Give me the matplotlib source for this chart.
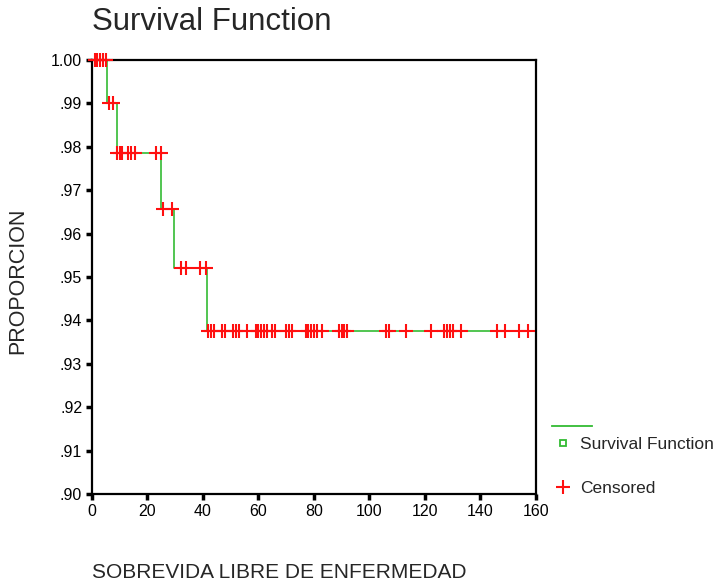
import matplotlib.pyplot as plt
from matplotlib.lines import Line2D

plt.rcParams['font.family'] = ['Liberation Sans', 'DejaVu Sans']

# step function (time, survival)
step_times = [0, 5.5, 9, 25, 29.5, 41.5, 158]
step_surv = [1.000, 0.990, 0.9786, 0.9657, 0.9521, 0.9376, 0.9376]

# censored observations, grouped by the level they sit on
cens_100 = [1, 2, 3, 4, 5]
cens_990 = [6, 7.5]
cens_979 = [9, 10, 11, 13, 14, 15.5, 23, 25]
cens_966 = [25.5, 29]
cens_952 = [32, 34, 39, 41]
cens_938 = [42, 43, 44, 47, 48, 51, 52, 53, 56, 59, 60, 61, 62, 63, 65,
            66, 70, 71, 72, 77, 78, 79, 80, 81, 83, 89, 90, 91, 92, 106,
            107, 113, 122, 127, 128, 129, 130, 133, 146, 149, 154, 157]

yticks = [0.90, 0.91, 0.92, 0.93, 0.94, 0.95, 0.96, 0.97, 0.98, 0.99, 1.00]
ytick_labels = ['.90', '.91', '.92', '.93', '.94', '.95', '.96', '.97',
                '.98', '.99', '1.00']
xticks = [0, 20, 40, 60, 80, 100, 120, 140, 160]

green = '#33bb33'
red = '#ff1010'
txt = '#262626'

fig = plt.figure(figsize=(7.18, 5.85), dpi=100)
ax = fig.add_axes([0.128, 0.1556, 0.6185, 0.7418])

ax.step(step_times, step_surv, where='post', color=green, lw=1.2, zorder=2)

for xs, lvl in [(cens_100, step_surv[0]), (cens_990, step_surv[1]),
                (cens_979, step_surv[2]), (cens_966, step_surv[3]),
                (cens_952, step_surv[4]), (cens_938, step_surv[5])]:
    ax.plot(xs, [lvl] * len(xs), '+', color=red, ms=10, mew=1.5,
            zorder=3, clip_on=False)

ax.set_xlim(0, 160)
ax.set_ylim(0.90, 1.00)
ax.set_xticks(xticks)
ax.set_yticks(yticks)
ax.set_yticklabels(ytick_labels)
ax.tick_params(direction='out', length=4, width=2.5, labelsize=11.5,
               colors='black', pad=3)
for s in ax.spines.values():
    s.set_linewidth(1.6)

fig.text(0.128, 0.963, 'Survival Function', fontsize=22.5, ha='left',
         va='center', color=txt)
fig.text(0.025, 0.52, 'PROPORCION', fontsize=15.5, rotation=90,
         ha='center', va='center', color=txt)
fig.text(0.128, 0.022, 'SOBREVIDA LIBRE DE ENFERMEDAD', fontsize=15,
         ha='left', va='center', color=txt)

# legend drawn by hand
fig.add_artist(Line2D([0.769, 0.824], [0.272, 0.272], color=green, lw=1.3))
fig.add_artist(Line2D([0.784], [0.243], marker='s', ms=4, mfc='white',
                      mec=green, mew=1.3, ls='none'))
fig.text(0.808, 0.241, 'Survival Function', fontsize=12.5, va='center',
         color=txt)
fig.add_artist(Line2D([0.784], [0.168], marker='+', ms=10, mew=1.5,
                      color=red, ls='none'))
fig.text(0.808, 0.165, 'Censored', fontsize=12.5, va='center',
         color=txt)

fig.savefig('out.png', dpi=100)
